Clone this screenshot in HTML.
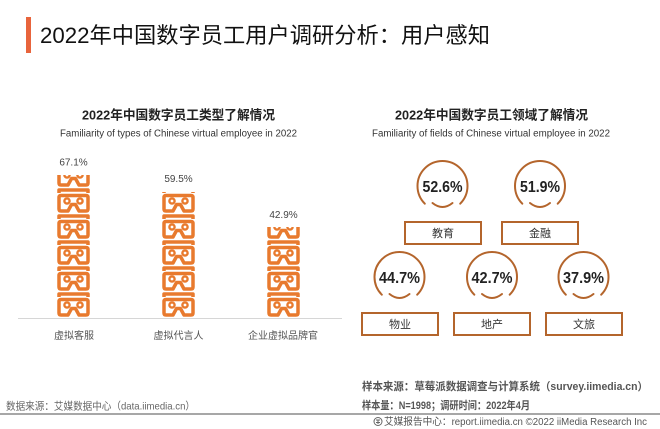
<!DOCTYPE html>
<html>
<head>
<meta charset="utf-8">
<style>
  html, body { margin:0; padding:0; background:#fff; }
  svg { display:block; }
  text { font-family: "Liberation Sans", "Noto Sans CJK SC", sans-serif; }
</style>
</head>
<body>
<svg width="660" height="429" viewBox="0 0 660 429" xmlns="http://www.w3.org/2000/svg">
  <defs>
    <g id="vr" fill="none" stroke="#E87A2E" stroke-linejoin="round">
      <path d="M2 5 V2 H31 V5" stroke-width="3.5"/>
      <path d="M4 7.5 H29 Q31 7.5 31 9.5 V21 Q31 23 29 23 H22 L18.5 16.5 H14.5 L11 23 H4 Q2 23 2 21 V9.5 Q2 7.5 4 7.5 Z" stroke-width="3.5"/>
      <circle cx="10" cy="13" r="2.6" stroke-width="2.4"/>
      <circle cx="23" cy="13" r="2.6" stroke-width="2.4"/>
    </g>
    <g id="stack">
      <use href="#vr" x="0" y="292"/>
      <use href="#vr" x="0" y="266"/>
      <use href="#vr" x="0" y="240"/>
      <use href="#vr" x="0" y="214"/>
      <use href="#vr" x="0" y="188"/>
      <use href="#vr" x="0" y="162"/>
    </g>
    <clipPath id="c1"><rect x="0" y="175" width="660" height="143"/></clipPath>
    <clipPath id="c2"><rect x="0" y="192" width="660" height="126"/></clipPath>
    <clipPath id="c3"><rect x="0" y="227" width="660" height="91"/></clipPath>
    <g id="ring" fill="none" stroke="#B4652C" stroke-width="2" stroke-linecap="round">
      <path d="M-17.68 17.68 A25 25 0 1 1 17.68 17.68"/>
      <path d="M-10 17 Q0 25 10 17"/>
    </g>
  </defs>

  <!-- Main title -->
  <rect x="26" y="17" width="5" height="36" fill="#E8643C"/>
  <text x="40" y="43" font-size="22" fill="#111" textLength="450" lengthAdjust="spacingAndGlyphs">2022年中国数字员工用户调研分析：用户感知</text>

  <!-- Chart 1 titles -->
  <text x="178.5" y="119.5" font-size="13" font-weight="bold" fill="#222" text-anchor="middle" textLength="193" lengthAdjust="spacingAndGlyphs">2022年中国数字员工类型了解情况</text>
  <text x="178.5" y="136.5" font-size="10" fill="#333" text-anchor="middle" textLength="237" lengthAdjust="spacingAndGlyphs">Familiarity of types of Chinese virtual employee in 2022</text>

  <!-- Chart 2 titles -->
  <text x="491.5" y="119.5" font-size="13" font-weight="bold" fill="#222" text-anchor="middle" textLength="193" lengthAdjust="spacingAndGlyphs">2022年中国数字员工领域了解情况</text>
  <text x="491" y="136.5" font-size="10" fill="#333" text-anchor="middle" textLength="238" lengthAdjust="spacingAndGlyphs">Familiarity of fields of Chinese virtual employee in 2022</text>

  <!-- Chart 1 bars -->
  <g clip-path="url(#c1)"><use href="#stack" x="57"/></g>
  <g clip-path="url(#c2)"><use href="#stack" x="162"/></g>
  <g clip-path="url(#c3)"><use href="#stack" x="267"/></g>

  <text x="73.5" y="165.5" font-size="10" fill="#444" text-anchor="middle">67.1%</text>
  <text x="178.5" y="182" font-size="10" fill="#444" text-anchor="middle">59.5%</text>
  <text x="283.5" y="218" font-size="10" fill="#444" text-anchor="middle">42.9%</text>

  <line x1="18" y1="318.5" x2="342" y2="318.5" stroke="#d6d6d6" stroke-width="1"/>

  <text x="74" y="339" font-size="10" fill="#555" text-anchor="middle">虚拟客服</text>
  <text x="178.5" y="339" font-size="10" fill="#555" text-anchor="middle">虚拟代言人</text>
  <text x="283" y="339" font-size="10" fill="#555" text-anchor="middle">企业虚拟品牌官</text>

  <!-- Chart 2 -->
  <use href="#ring" x="442.5" y="186"/>
  <use href="#ring" x="540" y="186"/>
  <use href="#ring" x="399.5" y="277"/>
  <use href="#ring" x="492" y="277"/>
  <use href="#ring" x="583.5" y="277"/>

  <g font-size="16" font-weight="bold" fill="#222" text-anchor="middle">
    <text x="442.5" y="192" textLength="40" lengthAdjust="spacingAndGlyphs">52.6%</text>
    <text x="540" y="192" textLength="40" lengthAdjust="spacingAndGlyphs">51.9%</text>
    <text x="399.5" y="283" textLength="41" lengthAdjust="spacingAndGlyphs">44.7%</text>
    <text x="492" y="283" textLength="41" lengthAdjust="spacingAndGlyphs">42.7%</text>
    <text x="583.5" y="283" textLength="41" lengthAdjust="spacingAndGlyphs">37.9%</text>
  </g>

  <g fill="#fff" stroke="#B4652C" stroke-width="2">
    <rect x="405" y="222" width="76" height="22"/>
    <rect x="502" y="222" width="76" height="22"/>
    <rect x="362" y="313" width="76" height="22"/>
    <rect x="454" y="313" width="76" height="22"/>
    <rect x="546" y="313" width="76" height="22"/>
  </g>
  <g font-size="11" fill="#333" text-anchor="middle">
    <text x="443" y="237">教育</text>
    <text x="540" y="237">金融</text>
    <text x="400" y="328">物业</text>
    <text x="492" y="328">地产</text>
    <text x="584" y="328">文旅</text>
  </g>

  <!-- Footer -->
  <text x="362" y="390" font-size="11" font-weight="bold" fill="#555" textLength="286" lengthAdjust="spacingAndGlyphs">样本来源：草莓派数据调查与计算系统（survey.iimedia.cn）</text>
  <text x="362" y="409" font-size="11" font-weight="bold" fill="#555" textLength="168" lengthAdjust="spacingAndGlyphs">样本量：N=1998；调研时间：2022年4月</text>
  <text x="6" y="409.5" font-size="10.5" fill="#666" textLength="189" lengthAdjust="spacingAndGlyphs">数据来源：艾媒数据中心（data.iimedia.cn）</text>
  <line x1="0" y1="414" x2="660" y2="414" stroke="#8a8a8a" stroke-width="1.5"/>
  <g fill="none" stroke="#666" stroke-width="1">
    <circle cx="378" cy="421.5" r="4"/>
    <path d="M376 420 h4 M376 422.5 h4 M378 420 v4"/>
  </g>
  <text x="384" y="425" font-size="10" fill="#555" textLength="263" lengthAdjust="spacingAndGlyphs">艾媒报告中心：report.iimedia.cn  ©2022 iiMedia Research Inc</text>
</svg>
</body>
</html>
